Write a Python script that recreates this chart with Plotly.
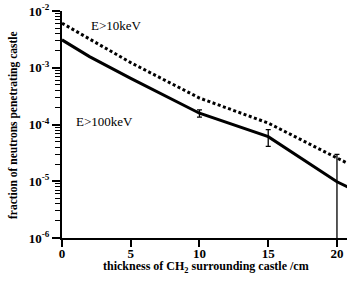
import plotly.graph_objects as go

# Data
thickness_100 = [0, 2, 5, 10, 15, 20, 25]
frac_100 = [3.1e-3, 1.57e-3, 6.5e-4, 1.58e-4, 6.1e-5, 9.8e-6, 2.5e-6]

thickness_10 = [0, 5, 10, 15, 20, 25]
frac_10 = [6.1e-3, 1.23e-3, 2.93e-4, 1.06e-4, 2.57e-5, 6.4e-6]

err_thickness = [10, 15, 20]
err_frac = [1.58e-4, 6.1e-5, 9.8e-6]
err_plus = [2.3e-5, 2.0e-5, 2.0e-5]
err_minus = [2.3e-5, 2.0e-5, 2.0e-5]

x_ticks = [0, 5, 10, 15, 20]
y_tickvals = [1e-6, 1e-5, 1e-4, 1e-3, 1e-2]
y_ticktext = ["<b>10<sup>-6</sup></b>", "<b>10<sup>-5</sup></b>", "<b>10<sup>-4</sup></b>",
              "<b>10<sup>-3</sup></b>", "<b>10<sup>-2</sup></b>"]

FONT = "Liberation Serif"

W, H = 347, 285
L, R, T, B = 62, 0, 11, 47
pw, ph = W - L - R, H - T - B


def px2paper(px, py):
    return (px - L) / pw, 1 - (py - T) / ph


fig = go.Figure()
fig.add_trace(go.Scatter(x=thickness_10, y=frac_10, mode="lines",
                         line=dict(color="black", width=3, dash="3px,2.5px"),
                         showlegend=False))
fig.add_trace(go.Scatter(x=thickness_100, y=frac_100, mode="lines",
                         line=dict(color="black", width=3),
                         showlegend=False))
fig.add_trace(go.Scatter(x=err_thickness, y=err_frac, mode="markers",
                         marker=dict(size=1, opacity=0),
                         error_y=dict(type="data", array=err_plus, arrayminus=err_minus,
                                      symmetric=False, color="black", thickness=1.3, width=2.5),
                         showlegend=False))

for txt, px, py in [("E>10keV", 116, 26), ("E>100keV", 104, 121)]:
    ax_, ay_ = px2paper(px, py)
    fig.add_annotation(x=ax_, y=ay_, xref="paper", yref="paper", xanchor="center", yanchor="middle",
                       text=txt, showarrow=False,
                       font=dict(family=FONT, size=13, color="black"))

# axis titles
ax_, ay_ = px2paper(206, 267)
fig.add_annotation(x=ax_, y=ay_, xref="paper", yref="paper", showarrow=False,
                   xanchor="center", yanchor="middle",
                   text="<b>thickness of CH<sub>2</sub> surrounding castle /cm</b>",
                   font=dict(family=FONT, size=12, color="black"))
ax_, ay_ = px2paper(13, 125)
fig.add_annotation(x=ax_, y=ay_, xref="paper", yref="paper", showarrow=False, textangle=-90,
                   xanchor="center", yanchor="middle",
                   text="<b>fraction of neutrons penetrating castle</b>",
                   font=dict(family=FONT, size=11.5, color="black"))

fig.update_layout(
    width=W, height=H,
    margin=dict(l=L, r=R, t=T, b=B, pad=0, autoexpand=False),
    plot_bgcolor="white", paper_bgcolor="white",
    font=dict(family=FONT, color="black"),
    xaxis=dict(range=[0, 20.73], tickvals=x_ticks, ticktext=[f"<b>{v}</b>" for v in x_ticks],
               ticks="outside", ticklen=7, tickwidth=2, tickcolor="black", automargin=False,
               ticklabelstandoff=-5,
               showline=True, linecolor="black", linewidth=2, showgrid=False, zeroline=False,
               tickfont=dict(family=FONT, size=13, color="black")),
    yaxis=dict(type="log", range=[-6, -2], tickvals=y_tickvals, ticktext=y_ticktext,
               ticks="outside", ticklen=8, tickwidth=2, tickcolor="black", automargin=False,
               minor=dict(ticks="outside", ticklen=5, tickwidth=1, tickcolor="black", dtick="D1",
                          showgrid=False),
               showline=True, linecolor="black", linewidth=2, showgrid=False, zeroline=False,
               tickfont=dict(family=FONT, size=13, color="black")),
)

fig.write_html("out.html", config={"displayModeBar": False},
               post_script="document.body.style.margin='0';document.body.style.overflow='hidden';")
